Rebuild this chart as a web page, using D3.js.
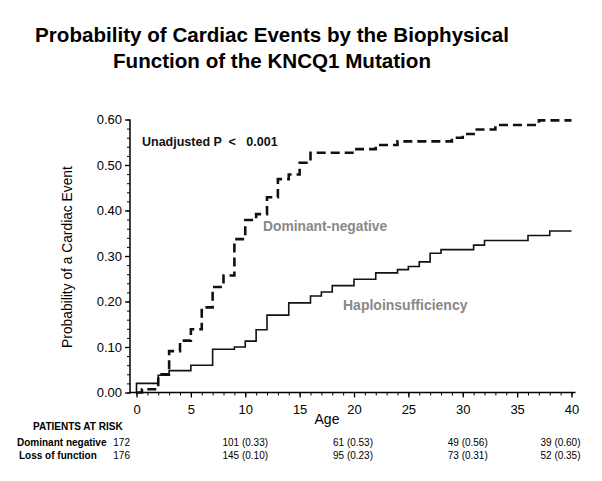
<!DOCTYPE html>
<html><head><meta charset="utf-8">
<script src="https://cdn.jsdelivr.net/npm/d3@7"></script>
<style>body{margin:0;background:#fff}svg{display:block}text{font-family:"Liberation Sans",Arial,sans-serif}</style>
</head><body>
<svg id="c" width="602" height="481"></svg>
<script>
// Data
const titleLines = ["Probability of Cardiac Events by the Biophysical", "Function of the KNCQ1 Mutation"];
const xTicks = [0, 5, 10, 15, 20, 25, 30, 35, 40];
const yTicks = [0, 0.1, 0.2, 0.3, 0.4, 0.5, 0.6];
// Dominant-negative (dashed)
const dnAges = [0, 0.5, 2, 3, 4, 5, 6, 7, 8, 9, 10, 11, 12, 13, 14, 15, 16, 20, 22, 24, 29, 30, 31, 33, 37, 40];
const dnProb = [0, 0.007, 0.04, 0.091, 0.114, 0.139, 0.187, 0.232, 0.257, 0.337, 0.379, 0.392, 0.429, 0.469, 0.479, 0.505, 0.527, 0.535, 0.544, 0.552, 0.560, 0.568, 0.578, 0.588, 0.598, 0.598];
// Haploinsufficiency / loss of function (solid)
const loAges = [0, 0, 2, 3, 5, 7, 9, 10, 11, 12, 14, 16, 17, 18, 20, 22, 24, 25, 26, 27, 28, 31, 32, 36, 38, 40];
const loProb = [0, 0.02, 0.038, 0.048, 0.06, 0.095, 0.10, 0.113, 0.138, 0.17, 0.197, 0.212, 0.221, 0.235, 0.249, 0.263, 0.27, 0.277, 0.287, 0.306, 0.314, 0.324, 0.334, 0.345, 0.355, 0.355];
// Patients at risk
const riskAges = [10, 20, 30, 40];
const riskGroups = ["Dominant negative", "Loss of function"];
const riskStart = [172, 176];
const riskDN = ["101 (0.33)", "61 (0.53)", "49 (0.56)", "39 (0.60)"];
const riskLO = ["145 (0.10)", "95 (0.23)", "73 (0.31)", "52 (0.35)"];

const svg = d3.select("#c");
const x = d3.scaleLinear().domain([0, 40]).range([136.5, 571.5]);
const y = d3.scaleLinear().domain([0, 0.6]).range([392.5, 119.5]);
const axX = 130;

// Title
svg.selectAll("text.title").data(titleLines).join("text")
  .attr("class", "title").attr("x", 272).attr("y", (d, i) => 42 + i * 26)
  .attr("text-anchor", "middle").attr("font-size", 20.6).attr("font-weight", "bold").attr("fill", "#000")
  .text(d => d);

// Y axis
const yAxis = d3.axisLeft(y).tickValues(yTicks).tickFormat(d3.format(".2f")).tickSize(5).tickPadding(3);
const gy = svg.append("g").attr("transform", `translate(${axX},0)`).call(yAxis);
gy.select(".domain").remove();
gy.selectAll("text").attr("font-size", 13).attr("fill", "#000").style("font-family", "Liberation Sans, Arial");
gy.selectAll("line").attr("stroke", "#000").attr("stroke-width", 1.3);
const yMinor = d3.axisLeft(y).tickValues(d3.range(0, 0.601, 0.02)).tickSize(3).tickFormat("");
const gym = svg.append("g").attr("transform", `translate(${axX},0)`).call(yMinor);
gym.select(".domain").remove();
gym.selectAll("line").attr("stroke", "#000").attr("stroke-width", 1);
svg.append("line").attr("x1", axX).attr("x2", axX).attr("y1", y(0.6)).attr("y2", y(0) + 1)
  .attr("stroke", "#000").attr("stroke-width", 1.5);

// X axis
const xAxis = d3.axisBottom(x).tickValues(xTicks).tickSize(5).tickPadding(7);
const gx = svg.append("g").attr("transform", `translate(0,${y(0)})`).call(xAxis);
gx.select(".domain").remove();
gx.selectAll("text").attr("font-size", 13).attr("fill", "#000").style("font-family", "Liberation Sans, Arial");
gx.selectAll("line").attr("stroke", "#000").attr("stroke-width", 1.3);
const xMinor = d3.axisBottom(x).tickValues(d3.range(0, 41, 1)).tickSize(3).tickFormat("");
const gxm = svg.append("g").attr("transform", `translate(0,${y(0)})`).call(xMinor);
gxm.select(".domain").remove();
gxm.selectAll("line").attr("stroke", "#000").attr("stroke-width", 1);
svg.append("line").attr("x1", axX).attr("x2", x(40) + 4).attr("y1", y(0)).attr("y2", y(0))
  .attr("stroke", "#000").attr("stroke-width", 1.5);

// Axis titles
svg.append("text").attr("x", 327).attr("y", 424).attr("text-anchor", "middle")
  .attr("font-size", 14).attr("fill", "#000").text("Age");
svg.append("text").attr("transform", "translate(72,257) rotate(-90)").attr("text-anchor", "middle")
  .attr("font-size", 13.8).attr("fill", "#000").text("Probability of a Cardiac Event");

// Curves
const line = d3.line().x(d => x(d[0])).y(d => y(d[1])).curve(d3.curveStepAfter);
svg.append("path").datum(loAges.map((a, i) => [a, loProb[i]]))
  .attr("d", line).attr("fill", "none").attr("stroke", "#111").attr("stroke-width", 1.6);
svg.append("path").datum(dnAges.map((a, i) => [a, dnProb[i]]))
  .attr("d", line).attr("fill", "none").attr("stroke", "#111").attr("stroke-width", 2.6)
  .attr("stroke-dasharray", "9,5");

// Annotations
svg.append("text").attr("x", 142).attr("y", 146).attr("font-size", 12.5).attr("font-weight", "bold")
  .attr("fill", "#111").attr("xml:space", "preserve").text("Unadjusted P  <   0.001");
svg.append("text").attr("x", 263).attr("y", 231).attr("font-size", 13.8).attr("font-weight", "bold")
  .attr("fill", "#888").text("Dominant-negative");
svg.append("text").attr("x", 343).attr("y", 310).attr("font-size", 14).attr("font-weight", "bold")
  .attr("fill", "#888").text("Haploinsufficiency");

// Patients at risk table
const rowY = [446, 459];
const colNudge = [0, -1, 5, -11];
svg.append("text").attr("x", 33).attr("y", 430).attr("font-size", 10).attr("font-weight", "bold")
  .attr("fill", "#000").text("PATIENTS AT RISK");
riskGroups.forEach((g, i) => {
  svg.append("text").attr("x", i === 0 ? 17 : 19).attr("y", rowY[i]).attr("font-size", 10).attr("font-weight", "bold")
    .attr("fill", "#000").text(g);
  svg.append("text").attr("x", 130).attr("y", rowY[i]).attr("text-anchor", "end").attr("font-size", 10)
    .attr("fill", "#000").text(riskStart[i]);
  const vals = i === 0 ? riskDN : riskLO;
  svg.selectAll(null).data(riskAges).join("text")
    .attr("x", (d, j) => x(d) + colNudge[j]).attr("y", rowY[i]).attr("text-anchor", "middle")
    .attr("font-size", 10).attr("fill", "#000").text((d, j) => vals[j]);
});
</script>
</body></html>
